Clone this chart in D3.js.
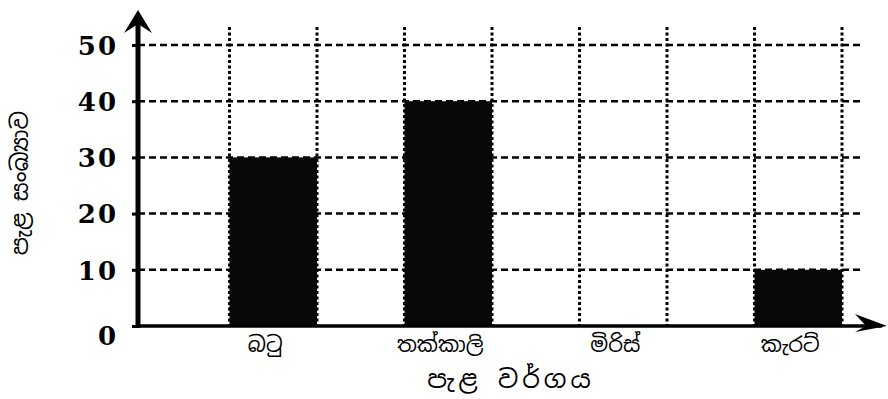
<!doctype html>
<html lang="si">
<head>
  <meta charset="utf-8">
  <meta name="viewport" content="width=device-width, initial-scale=1.0">
  <script src="https://d3js.org/d3.v7.min.js" charset="utf-8"></script>
  <style>
    html, body { margin: 0; padding: 0; background: #fff; }
    .sin { font-family: "Noto Sans Sinhala", "Iskoola Pota", "Noto Sans", sans-serif; }
    .ytick text { font-family: "DejaVu Serif", "Liberation Serif", serif; font-weight: bold; }
  </style>
</head>
<body>
  <div id="chart"></div>
  <script>
    // plant types and counts
    var plantTypes = ["බටු", "තක්කාලි", "මිරිස්", "කැරට්"];
    var plantCounts = [30, 40, 0, 10];
    var yTickValues = [0, 10, 20, 30, 40, 50];
    var xTitle = "පැළ වර්ගය";
    var yTitle = "පැළ සංඛ්‍යාව";

    var width = 888, height = 399;
    var axisX = 138, axisY = 326;

    var svg = d3.select("#chart").append("svg")
        .attr("width", width)
        .attr("height", height);

    var x = d3.scaleBand()
        .domain(plantTypes)
        .range([142, 842])
        .paddingInner(0.5)
        .paddingOuter(0.25)
        .align(1);

    var y = d3.scaleLinear().domain([0, 50]).range([axisY, 45]);

    // horizontal dashed grid
    svg.append("g").selectAll("line")
        .data(yTickValues.filter(function(d){ return d > 0; }))
        .enter().append("line")
        .attr("x1", axisX).attr("x2", 860)
        .attr("y1", function(d){ return y(d); })
        .attr("y2", function(d){ return y(d); })
        .attr("stroke", "#000")
        .attr("stroke-width", 2.5)
        .attr("stroke-dasharray", "7 4");

    // vertical dotted grid at the edges of each bar slot
    var edges = [];
    plantTypes.forEach(function(c){ edges.push(x(c)); edges.push(x(c) + x.bandwidth()); });
    svg.append("g").selectAll("line")
        .data(edges)
        .enter().append("line")
        .attr("x1", function(d){ return d; })
        .attr("x2", function(d){ return d; })
        .attr("y1", 27).attr("y2", axisY)
        .attr("stroke", "#000")
        .attr("stroke-width", 3)
        .attr("stroke-dasharray", "3 2.5");

    // bars
    svg.append("g").selectAll("rect")
        .data(plantTypes)
        .enter().append("rect")
        .attr("x", function(d){ return x(d); })
        .attr("width", x.bandwidth())
        .attr("y", function(d, i){ return y(plantCounts[i]); })
        .attr("height", function(d, i){ return axisY - y(plantCounts[i]); })
        .attr("fill", "#080808");

    // y axis
    var yAxis = svg.append("g")
        .attr("class", "ytick")
        .attr("transform", "translate(" + axisX + ",0)")
        .call(d3.axisLeft(y).tickValues(yTickValues).tickSize(6).tickPadding(14));
    yAxis.select(".domain").remove();
    yAxis.selectAll(".tick line").attr("stroke", "#000").attr("stroke-width", 3);
    yAxis.selectAll(".tick text")
        .attr("font-size", 26)
        .attr("letter-spacing", 2)
        .attr("fill", "#000")
        .attr("dy", function(d){ return d === 0 ? "0.72em" : "0.36em"; });

    // axis lines with arrows
    svg.append("line")
        .attr("x1", axisX).attr("x2", axisX)
        .attr("y1", axisY + 2).attr("y2", 16)
        .attr("stroke", "#000").attr("stroke-width", 5);
    svg.append("path")
        .attr("d", "M" + axisX + ",10 L" + (axisX - 14) + ",33 L" + axisX + ",24 L" + (axisX + 14) + ",33 Z")
        .attr("fill", "#000");

    svg.append("line")
        .attr("x1", axisX - 2).attr("x2", 882)
        .attr("y1", axisY).attr("y2", axisY)
        .attr("stroke", "#000").attr("stroke-width", 3.5);
    svg.append("path")
        .attr("d", "M887," + axisY + " L855," + (axisY - 12) + " L866," + axisY + " L855," + (axisY + 6) + " Z")
        .attr("fill", "#000");

    // category labels
    svg.append("g").selectAll("text")
        .data(plantTypes)
        .enter().append("text")
        .attr("class", "sin")
        .attr("x", function(d){ return x(d) + x.bandwidth() / 2 - 8; })
        .attr("y", 352)
        .attr("text-anchor", "middle")
        .attr("font-size", 21)
        .attr("fill", "#000")
        .text(function(d){ return d; });

    // axis titles
    svg.append("text")
        .attr("class", "sin")
        .attr("x", 511).attr("y", 388)
        .attr("text-anchor", "middle")
        .attr("font-size", 25)
        .attr("letter-spacing", 4)
        .attr("fill", "#000")
        .text(xTitle);

    svg.append("text")
        .attr("class", "sin")
        .attr("transform", "translate(28,183) rotate(-90)")
        .attr("text-anchor", "middle")
        .attr("font-size", 23)
        .attr("fill", "#000")
        .text(yTitle);
  </script>
</body>
</html>
